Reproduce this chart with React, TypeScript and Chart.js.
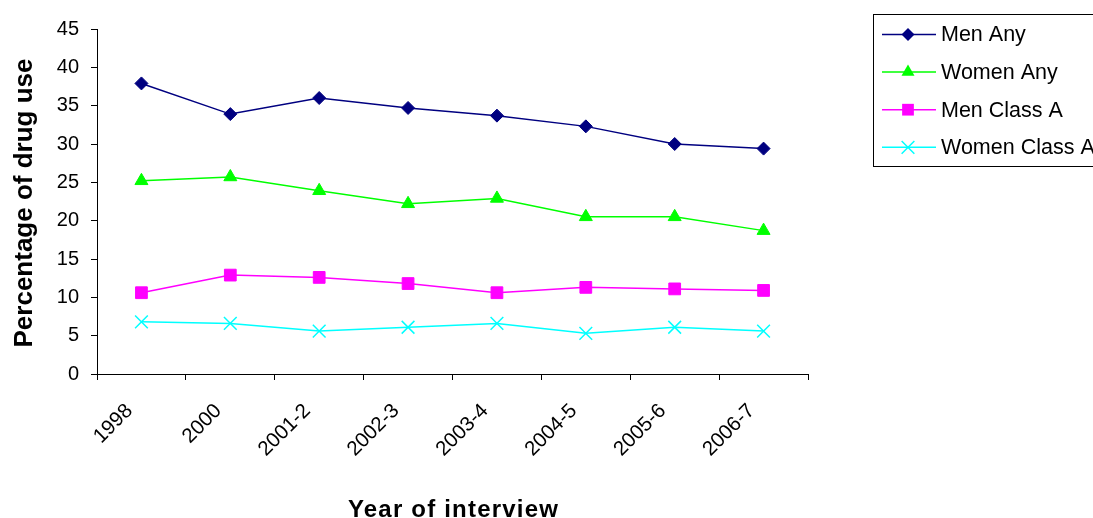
import { useEffect, useRef } from 'react';
import { Chart, registerables } from 'chart.js';

Chart.register(...registerables);

// Survey years and the share of respondents reporting drug use (%)
const years = ['1998', '2000', '2001-2', '2002-3', '2003-4', '2004-5', '2005-6', '2006-7'];
const menAny = [37.9, 33.9, 36.0, 34.7, 33.7, 32.3, 30.0, 29.4];
const womenAny = [25.2, 25.7, 23.9, 22.2, 22.9, 20.5, 20.5, 18.7];
const menClassA = [10.6, 12.9, 12.6, 11.8, 10.6, 11.3, 11.1, 10.9];
const womenClassA = [6.8, 6.6, 5.6, 6.1, 6.6, 5.3, 6.1, 5.6];
const yMin = 0;
const yMax = 45;
const yStep = 5;
const xTitle = 'Year of interview';
const yTitle = 'Percentage of drug use';

const FONT = "'Liberation Sans', Arial, sans-serif";

type Marker = 'rectRot' | 'triangle' | 'rect' | 'crossRot';

function drawMarker(ctx: CanvasRenderingContext2D, style: Marker, x: number, y: number, r: number, color: string) {
  ctx.save();
  ctx.fillStyle = color;
  ctx.strokeStyle = color;
  ctx.lineWidth = 1.5;
  ctx.beginPath();
  if (style === 'rectRot') {
    ctx.moveTo(x, y - r);
    ctx.lineTo(x + r, y);
    ctx.lineTo(x, y + r);
    ctx.lineTo(x - r, y);
    ctx.closePath();
    ctx.fill();
  } else if (style === 'triangle') {
    const h = r * Math.sqrt(3) / 2;
    ctx.moveTo(x, y - r);
    ctx.lineTo(x + h, y + r / 2);
    ctx.lineTo(x - h, y + r / 2);
    ctx.closePath();
    ctx.fill();
  } else if (style === 'rect') {
    const s = r * Math.SQRT1_2;
    ctx.rect(x - s, y - s, 2 * s, 2 * s);
    ctx.fill();
  } else {
    const s = r * Math.SQRT1_2;
    ctx.moveTo(x - s, y - s);
    ctx.lineTo(x + s, y + s);
    ctx.moveTo(x - s, y + s);
    ctx.lineTo(x + s, y - s);
    ctx.stroke();
  }
  ctx.restore();
}

// Boxed legend with a line sample and marker for each series
const boxLegend = {
  id: 'boxLegend',
  afterDraw(chart: any) {
    const ctx: any = chart.ctx;
    ctx.save();
    ctx.strokeStyle = '#000';
    ctx.lineWidth = 1;
    ctx.strokeRect(873.5, 14.5, 240, 152);
    ctx.font = `21.5px ${FONT}`;
    ctx.textBaseline = 'middle';
    ctx.textAlign = 'left';
    chart.data.datasets.forEach((ds: any, i: number) => {
      const y = 34.5 + i * 37.6;
      ctx.strokeStyle = ds.borderColor;
      ctx.lineWidth = ds.borderWidth;
      ctx.beginPath();
      ctx.moveTo(882, y);
      ctx.lineTo(936, y);
      ctx.stroke();
      drawMarker(ctx, ds.pointStyle, 908, y, ds.pointRadius, ds.pointBackgroundColor);
      ctx.fillStyle = '#000';
      ctx.fillText(ds.label, 941, y + 1);
    });
    ctx.restore();
  },
};

// Axis titles, drawn with a little extra letter spacing
const axisTitles = {
  id: 'axisTitles',
  afterDraw(chart: any) {
    const ctx: any = chart.ctx;
    const area = chart.chartArea;
    ctx.save();
    ctx.fillStyle = '#000';
    ctx.textBaseline = 'alphabetic';
    ctx.textAlign = 'center';

    ctx.font = `bold 24px ${FONT}`;
    ctx.letterSpacing = '1.2px';
    ctx.fillText(xTitle, (area.left + area.right) / 2 + 1, 517);

    ctx.font = `bold 26px ${FONT}`;
    ctx.letterSpacing = '0px';
    ctx.translate(32, (area.top + area.bottom) / 2 + 1.5);
    ctx.rotate(-Math.PI / 2);
    ctx.fillText(yTitle, 0, 0);
    ctx.restore();
  },
};

function series(label: string, data: number[], color: string, style: Marker, radius: number) {
  return {
    label,
    data,
    borderColor: color,
    backgroundColor: color,
    pointBackgroundColor: color,
    pointBorderColor: color,
    borderWidth: 1.5,
    pointStyle: style,
    pointRadius: radius,
    pointBorderWidth: style === 'crossRot' ? 1.5 : 1,
    tension: 0,
    fill: false,
  };
}

export default function App() {
  const canvasRef = useRef<HTMLCanvasElement>(null);

  useEffect(() => {
    const canvas = canvasRef.current;
    if (!canvas) return;
    const chart = new Chart(canvas, {
      type: 'line',
      data: {
        labels: years,
        datasets: [
          series('Men Any', menAny, '#000080', 'rectRot', 6.5),
          series('Women Any', womenAny, '#00FF00', 'triangle', 7.5),
          series('Men Class A', menClassA, '#FF00FF', 'rect', 8.3),
          series('Women Class A', womenClassA, '#00FFFF', 'crossRot', 9),
        ] as any,
      },
      options: {
        responsive: false,
        animation: false,
        devicePixelRatio: 1,
        layout: { padding: { left: 0, top: 29, right: 285, bottom: 0 } },
        plugins: {
          legend: { display: false },
          tooltip: { enabled: false },
        },
        scales: {
          x: {
            offset: true,
            grid: {
              offset: true,
              drawOnChartArea: false,
              drawTicks: true,
              tickLength: 6,
              color: '#000',
            },
            border: { color: '#000', width: 1 },
            ticks: {
              autoSkip: false,
              minRotation: 45,
              maxRotation: 45,
              padding: 19,
              labelOffset: -12,
              color: '#000',
              font: { family: FONT, size: 20.5 },
            },
            afterFit(scale: any) {
              scale.height = 144;
            },
          },
          y: {
            min: yMin,
            max: yMax,
            grid: {
              drawOnChartArea: false,
              drawTicks: true,
              tickLength: 6,
              color: '#000',
            },
            border: { color: '#000', width: 1 },
            ticks: {
              stepSize: yStep,
              padding: 12,
              color: '#000',
              font: { family: FONT, size: 20 },
            },
            afterFit(scale: any) {
              scale.width = 97;
            },
          },
        },
      } as any,
      plugins: [boxLegend, axisTitles],
    });
    return () => chart.destroy();
  }, []);

  return (
    <div style={{ position: 'fixed', left: 0, top: 0, width: 1093, height: 518, background: '#fff' }}>
      <canvas ref={canvasRef} width={1093} height={518} />
    </div>
  );
}
